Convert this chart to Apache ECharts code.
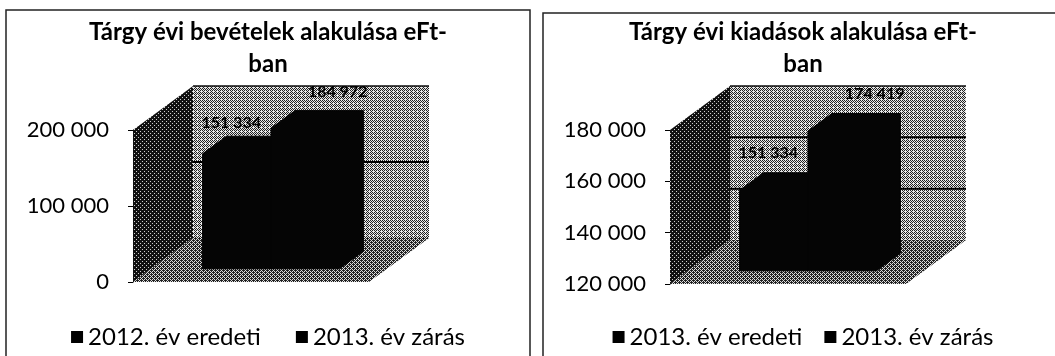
<!DOCTYPE html>
<html>
<head>
<meta charset="utf-8">
<script src="https://cdn.jsdelivr.net/npm/echarts@6/dist/echarts.min.js"></script>
<style>
  html, body { margin: 0; padding: 0; background: #fff; overflow: hidden; }
  #wrap { position: relative; width: 1055px; height: 356px; overflow: hidden; }
  .panel { position: absolute; top: 0; height: 356px; }
  #income { left: 0; width: 536px; }
  #expense { left: 540px; width: 526px; }
</style>
</head>
<body>
<div id="wrap">
  <div id="income" class="panel"></div>
  <div id="expense" class="panel"></div>
</div>
<script>
// Tárgy évi bevételek (eFt)
const incomeNames = ['2012. év eredeti', '2013. év zárás'];
const incomeValues = [151334, 184972];
const incomeTicks = [0, 100000, 200000];

// Tárgy évi kiadások (eFt)
const expenseNames = ['2013. év eredeti', '2013. év zárás'];
const expenseValues = [151334, 174419];
const expenseTicks = [120000, 140000, 160000, 180000];

const categories = [''];

const FONT = 'Lato, "Open Sans", sans-serif';
const DEPTH = [60, -44];          // pixel offset from the front plane to the back wall
const BAR_FRONT = 0.3, BAR_BACK = 0.7, BAR_SHARE = 0.29;

const fmt = v => String(v).replace(/\B(?=(\d{3})+(?!\d))/g, ' ');

// ordered-dither tile, gives the stippled grey look of the walls
function ditherTile(level, dark, light) {
  const bayer = [[0, 8, 2, 10], [12, 4, 14, 6], [3, 11, 1, 9], [15, 7, 13, 5]];
  const c = document.createElement('canvas');
  c.width = c.height = 4;
  const ctx = c.getContext('2d');
  ctx.fillStyle = light; ctx.fillRect(0, 0, 4, 4);
  ctx.fillStyle = dark;
  for (let y = 0; y < 4; y++) for (let x = 0; x < 4; x++) {
    if ((bayer[y][x] + 0.5) / 16 < level) ctx.fillRect(x, y, 1, 1);
  }
  return { image: c, repeat: 'repeat' };
}
const backFill = ditherTile(0.45, '#222', '#e8e8e8');
const sideFill = ditherTile(0.88, '#111', '#cfcfcf');
const floorFill = ditherTile(0.6, '#222', '#dcdcdc');

function wallsRenderer(ticks) {
  return function (params, api) {
    const cs = params.coordSys;
    const x0 = cs.x, x1 = cs.x + cs.width, yt = cs.y, yb = cs.y + cs.height;
    const [dx, dy] = DEPTH;
    const children = [
      { type: 'rect', shape: { x: x0 + dx, y: yt + dy, width: x1 - x0, height: yb - yt },
        style: { fill: backFill } },
      { type: 'polygon', shape: { points: [[x0, yb], [x1, yb], [x1 + dx, yb + dy], [x0 + dx, yb + dy]] },
        style: { fill: floorFill } },
      { type: 'polygon', shape: { points: [[x0, yb], [x0, yt], [x0 + dx, yt + dy], [x0 + dx, yb + dy]] },
        style: { fill: sideFill } },
      { type: 'line', shape: { x1: x0 + dx, y1: yt + dy, x2: x1 + dx, y2: yt + dy },
        style: { stroke: '#111', lineWidth: 1.5 } }
    ];
    ticks.slice(1, -1).forEach(t => {
      const y = api.coord([0, t])[1] + dy;
      children.push({ type: 'line', shape: { x1: x0 + dx, y1: y, x2: x1 + dx, y2: y },
        style: { stroke: '#000', lineWidth: 2 } });
    });
    return { type: 'group', children };
  };
}

// one 3D column: front face, top face and right side, plus its value label
function barRenderer(slot, lift) {
  return function (params, api) {
    const cs = params.coordSys;
    const yb = cs.y + cs.height;
    const val = api.value(1);
    const top = api.coord([api.value(0), val]);
    const band = api.size([1, 0])[0];
    const w = band * BAR_SHARE;
    const xl = top[0] - w + slot * w + 2;
    const [dx, dy] = DEPTH;
    const fx = dx * BAR_FRONT, fy = dy * BAR_FRONT, bx = dx * BAR_BACK, by = dy * BAR_BACK;
    const ink = '#050505';
    const face = { fill: ink, stroke: ink, lineWidth: 1, lineJoin: 'round' };
    const backTop = top[1] + by;
    return {
      type: 'group',
      children: [
        { type: 'polygon', shape: { points: [
            [xl + fx, yb + fy], [xl + fx, top[1] + fy], [xl + bx, backTop], [xl + w + bx, backTop],
            [xl + w + bx, yb + by], [xl + w + fx, yb + fy]] }, style: face },
        { type: 'text', z2: 10, style: {
            text: fmt(val),
            x: slot === 0 ? xl + fx - 1 : xl + w + bx + 4,
            y: backTop - lift,
            align: slot === 0 ? 'left' : 'right',
            verticalAlign: 'middle',
            font: 'bold 16px ' + FONT,
            fill: '#000'
          } }
      ]
    };
  };
}

function panelOption(cfg) {
  const series = [{
    type: 'custom', name: '_walls', silent: true, z: 1,
    data: [[0, cfg.ticks[0]]],
    renderItem: wallsRenderer(cfg.ticks)
  }];
  cfg.names.forEach((n, i) => {
    series.push({
      type: 'custom', name: n, z: 2 + i,
      itemStyle: { color: '#000' },
      data: [[0, cfg.values[i]]],
      encode: { x: 0, y: 1 },
      renderItem: barRenderer(i, cfg.lifts[i])
    });
  });
  return {
    animation: false,
    textStyle: { fontFamily: FONT },
    graphic: [{ type: 'polyline', silent: true, shape: { points: cfg.frame },
      style: { fill: 'none', stroke: '#222', lineWidth: 1.5 } }],
    title: {
      text: cfg.title, left: 'center', top: 16, padding: 0,
      textStyle: { fontFamily: FONT, fontSize: 24, fontWeight: 'bold', color: '#000', lineHeight: 32 }
    },
    legend: {
      data: cfg.names, left: 'center', top: 325, padding: 0,
      itemWidth: 12, itemHeight: 12, itemGap: cfg.legendGap, icon: 'rect',
      itemStyle: { color: '#000' },
      textStyle: { fontFamily: FONT, fontSize: 24, color: '#000' }
    },
    grid: cfg.grid,
    xAxis: { type: 'category', data: categories, show: false },
    yAxis: {
      type: 'value', min: cfg.ticks[0], max: cfg.ticks[cfg.ticks.length - 1],
      interval: cfg.ticks[1] - cfg.ticks[0],
      axisLine: { show: true, lineStyle: { color: '#000', width: 1 } },
      axisTick: { show: true, length: 5, lineStyle: { color: '#000' } },
      splitLine: { show: false },
      axisLabel: { color: '#000', fontSize: 22, margin: 24, fontFamily: FONT, formatter: fmt }
    },
    series
  };
}

echarts.init(document.getElementById('income'), null, { renderer: 'canvas' }).setOption(panelOption({
  title: 'Tárgy évi bevételek alakulása eFt-\nban',
  names: incomeNames, values: incomeValues, ticks: incomeTicks,
  lifts: [13, 19],
  grid: { left: 133, top: 130, width: 236, height: 152 },
  frame: [[6, 400], [6, 10], [530, 10], [530, 400]],
  legendGap: 35
}));

echarts.init(document.getElementById('expense'), null, { renderer: 'canvas' }).setOption(panelOption({
  title: 'Tárgy évi kiadások alakulása eFt-\nban',
  names: expenseNames, values: expenseValues, ticks: expenseTicks,
  lifts: [20, 20],
  grid: { left: 130, top: 130, width: 236, height: 154 },
  frame: [[3, 400], [3, 13], [600, 13]],
  legendGap: 22
}));
</script>
</body>
</html>
